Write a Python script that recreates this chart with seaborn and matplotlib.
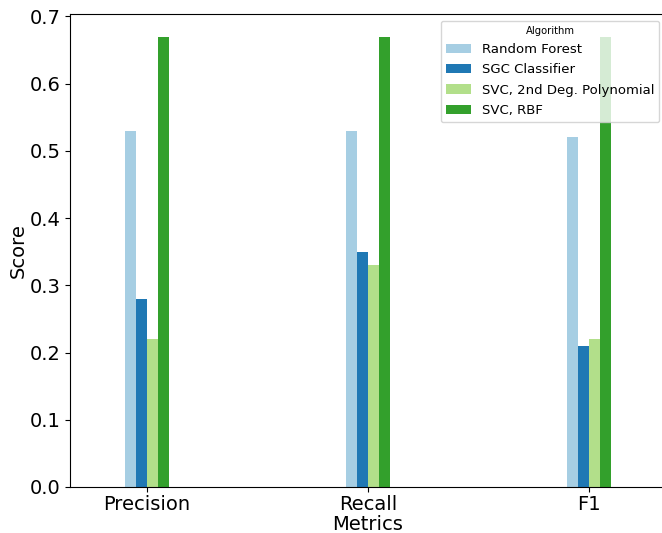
import pandas as pd
import matplotlib
matplotlib.use('Agg')
import matplotlib.pyplot as plt
import seaborn as sns

# Scores
metrics = ['Precision', 'Recall', 'F1']
algorithms = ['Random Forest', 'SGC Classifier', 'SVC, 2nd Deg. Polynomial', 'SVC, RBF']
random_forest = [0.53, 0.53, 0.52]
sgc_classifier = [0.28, 0.35, 0.21]
svc_poly = [0.22, 0.33, 0.22]
svc_rbf = [0.67, 0.67, 0.67]

scores = [random_forest, sgc_classifier, svc_poly, svc_rbf]
rows = []
for algo, vals in zip(algorithms, scores):
    for m, v in zip(metrics, vals):
        rows.append({'Metrics': m, 'Algorithm': algo, 'Score': v})
df = pd.DataFrame(rows)

fig = plt.figure(figsize=(6.62, 5.33), dpi=100)
# the reference is cropped on the right, so the axes run past the figure edge
ax = fig.add_axes([70 / 662, 1 - 487 / 533, 596 / 662, 473 / 533])
sns.barplot(data=df, x='Metrics', y='Score', hue='Algorithm', hue_order=algorithms,
            palette='Paired', width=0.2, saturation=1, ax=ax)

ax.set_xlim(-0.348, 2.349)
ax.set_ylim(0, 0.7035)
ax.tick_params(axis='both', labelsize=14)
ax.tick_params(axis='x', pad=2.2)
ax.set_xlabel('Metrics', fontsize=14, labelpad=0.8)
ax.set_ylabel('Score', fontsize=14, labelpad=1)
leg = ax.legend(title='Algorithm', fontsize=9.5, title_fontsize=7.2, loc='upper right',
                handlelength=1.9, labelspacing=0.55)

plt.savefig('out.png', dpi=100)
